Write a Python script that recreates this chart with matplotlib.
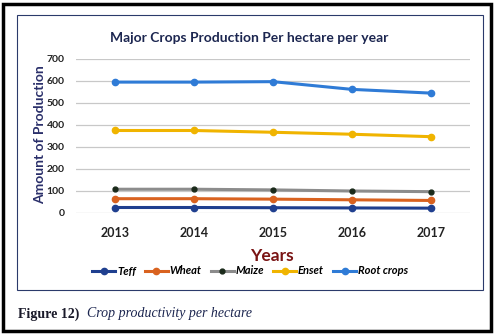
import matplotlib
matplotlib.use('Agg')
from matplotlib import pyplot as plt
from matplotlib.patches import Rectangle

# 数据
years = [2013, 2014, 2015, 2016, 2017]
teff = [25, 25, 24, 23, 22]
wheat = [65, 65, 63, 60, 57]
maize = [108, 108, 105, 100, 97]
enset = [375, 375, 367, 358, 347]
root_crops = [595, 595, 597, 562, 545]

series = [
    ('Teff', teff, '#1f3f8f', '#1f3f8f', 4.5),
    ('Wheat', wheat, '#d9621f', '#d9621f', 4.5),
    ('Maize', maize, '#8c8c8c', '#1a2a1a', 3.5),
    ('Enset', enset, '#f0b400', '#f0b400', 4.5),
    ('Root crops', root_crops, '#2f7bd6', '#2f7bd6', 4.5),
]

plt.rcParams['font.family'] = ['Lato', 'DejaVu Sans']

fig = plt.figure(figsize=(4.95, 3.34), dpi=100)
W, H = 495, 334

# 外框和内框
fig.patches.append(Rectangle((3 / W, 3 / H), 488 / W, 327 / H, transform=fig.transFigure,
                             fill=False, edgecolor='black', linewidth=2.5))
fig.patches.append(Rectangle((17 / W, (H - 290) / H), 466 / W, 275 / H, transform=fig.transFigure,
                             fill=False, edgecolor='#2b3a6b', linewidth=0.8))

ax = fig.add_axes([76 / W, (H - 213) / H, 394 / W, 154 / H])
for name, vals, c, mc, ms in series:
    ax.plot(years, vals, color=c, linewidth=2.2, marker='o', markersize=ms,
            markerfacecolor=mc, markeredgecolor=mc, label=name)

ax.set_xlim(2012.5, 2017.5)
ax.set_ylim(0, 700)
ax.set_xticks(years)
ax.set_yticks(range(0, 701, 100))
ax.grid(axis='y', color='#c8c8c8', linewidth=0.9)
ax.set_axisbelow(True)
for s in ax.spines.values():
    s.set_visible(False)
ax.tick_params(length=0)
ax.tick_params(axis='x', pad=10, labelsize=9)
ax.tick_params(axis='y', pad=8, labelsize=7.5)
for t in ax.get_xticklabels() + ax.get_yticklabels():
    t.set_fontweight('bold')
    t.set_color('#222222')

fig.text(249 / W, (H - 38) / H, 'Major Crops Production Per hectare per year', ha='center', va='center',
         fontsize=10, fontweight='bold', color='#1c2650')
fig.text(40 / W, (H - 135) / H, 'Amount of Production', rotation=90, ha='center', va='center',
         fontsize=10, fontweight='bold', color='#2a2f6a')
fig.text(272 / W, (H - 256) / H, 'Years', ha='center', va='center',
         fontsize=12.5, fontweight='bold', color='#7a1414')

leg = fig.legend(loc='center', bbox_to_anchor=(250 / W, (H - 271) / H), ncol=5, frameon=False,
                 prop={'style': 'italic', 'weight': 'bold', 'size': 8}, handlelength=2.1,
                 handletextpad=0.15, columnspacing=0.8)

fig.text(18 / W, (H - 314) / H, 'Figure 12)', ha='left', va='center', fontsize=10,
         fontweight='bold', family='Liberation Serif', color='#1a1a2a')
fig.text(87 / W, (H - 314) / H, 'Crop productivity per hectare', ha='left', va='center', fontsize=10,
         style='italic', family='Liberation Serif', color='#1c2650')

fig.savefig('out.png', dpi=100)
